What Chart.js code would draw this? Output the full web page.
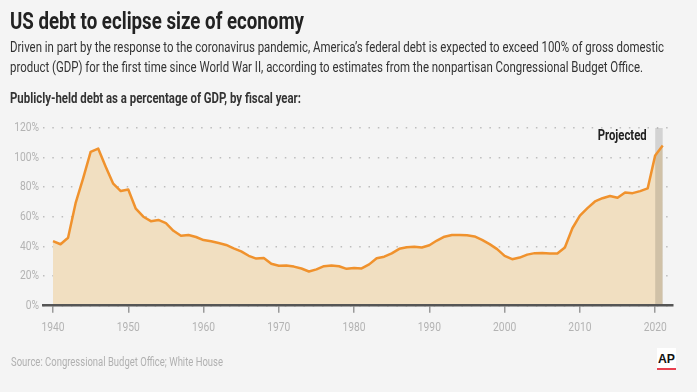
<!DOCTYPE html>
<html><head><meta charset="utf-8">
<script src="https://cdn.jsdelivr.net/npm/chart.js@4/dist/chart.umd.min.js"></script>
<style>
html,body{margin:0;padding:0;background:#f4f4f4;width:697px;height:392px;overflow:hidden;}
#wrap{position:relative;width:697px;height:392px;}
canvas{position:absolute;left:0;top:0;}
.t{position:absolute;white-space:nowrap;transform-origin:0 0;font-family:'Liberation Sans Narrow','Roboto',sans-serif;line-height:1;}
#title{left:10px;top:8.5px;font-size:24.5px;font-weight:bold;color:#222;}
.sub{left:10px;font-size:14.5px;color:#333;}
#lab{left:10px;top:91.5px;font-size:14.5px;font-weight:bold;color:#333;}
#src{left:11px;top:356px;font-size:12.5px;color:#b0b0b0;}
#ap{position:absolute;left:657px;top:348px;width:19px;height:22px;background:#fff;}
#apt{position:absolute;left:1px;top:4px;font-family:'Liberation Sans','Roboto',sans-serif;font-size:13.5px;font-weight:bold;color:#111;line-height:1;transform-origin:0 0;white-space:nowrap;}
#apbar{position:absolute;left:0;top:20px;width:19px;height:2.3px;background:#e8404f;}
</style></head>
<body><div id="wrap">
<canvas id="c" width="697" height="392"></canvas>
<div class="t" id="title" data-w="294">US debt to eclipse size of economy</div>
<div class="t sub" style="top:40.5px" data-w="654">Driven in part by the response to the coronavirus pandemic, America’s federal debt is expected to exceed 100% of gross domestic</div>
<div class="t sub" style="top:60.5px" data-w="633">product (GDP) for the first time since World War II, according to estimates from the nonpartisan Congressional Budget Office.</div>
<div class="t" id="lab" data-w="291">Publicly-held debt as a percentage of GDP, by fiscal year:</div>
<div class="t" id="src" data-w="212">Source: Congressional Budget Office; White House</div>
<div id="ap"><span id="apt" data-w="17">AP</span><div id="apbar"></div></div>
</div>
<script>
// ---- data ----
const years = [1940,1941,1942,1943,1944,1945,1946,1947,1948,1949,
  1950,1951,1952,1953,1954,1955,1956,1957,1958,1959,
  1960,1961,1962,1963,1964,1965,1966,1967,1968,1969,
  1970,1971,1972,1973,1974,1975,1976,1977,1978,1979,
  1980,1981,1982,1983,1984,1985,1986,1987,1988,1989,
  1990,1991,1992,1993,1994,1995,1996,1997,1998,1999,
  2000,2001,2002,2003,2004,2005,2006,2007,2008,2009,
  2010,2011,2012,2013,2014,2015,2016,2017,2018,2019,
  2020,2021];
const debtPct = [43.6,41.5,45.9,69.2,86.0,103.9,106.1,93.9,82.4,77.4,
  78.5,65.5,60.1,57.1,57.9,55.7,50.6,47.2,47.7,46.4,
  44.3,43.5,42.3,41.0,38.7,36.7,33.7,31.8,32.2,28.3,
  27.0,27.1,26.4,25.1,23.1,24.5,26.7,27.1,26.6,24.9,
  25.5,25.2,27.9,32.1,33.1,35.3,38.4,39.5,39.8,39.3,
  40.8,44.0,46.6,47.8,47.7,47.5,46.8,44.5,41.6,38.2,
  33.6,31.4,32.5,34.5,35.5,35.6,35.3,35.2,39.3,52.3,
  60.9,65.9,70.4,72.6,74.1,72.9,76.4,76.0,77.4,79.2,
  101.5,108.2];
const yTickValues = [0,20,40,60,80,100,120];
const xTickValues = [1940,1950,1960,1970,1980,1990,2000,2010,2020];
const projStart = 2020, projEnd = 2021;
const projLabel = 'Projected';

// fit HTML texts to reference widths
document.querySelectorAll('[data-w]').forEach(el=>{
  const w = el.getBoundingClientRect().width;
  el.style.transform = 'scaleX(' + (+el.dataset.w / w) + ')';
});

const FONT = "'Liberation Sans Narrow', Roboto, sans-serif";
const TICK_FONT = '13px ' + FONT;
const TICK_COLOR = '#b3b3b3';
const SQUEEZE = 0.79;

const projPlugin = {
  id: 'proj',
  beforeDatasetDraw(chart) {
    const {ctx, scales:{x, y}} = chart;
    const x0 = x.getPixelForValue(projStart), x1 = x.getPixelForValue(projEnd);
    const yt = y.getPixelForValue(120), yb = y.getPixelForValue(0);
    ctx.save();
    ctx.fillStyle = 'rgba(0,0,0,0.135)';
    ctx.fillRect(x0, yt, x1 - x0, yb - yt);
    ctx.font = 'bold 15.5px ' + FONT;
    ctx.fillStyle = '#222';
    ctx.textAlign = 'right';
    ctx.textBaseline = 'alphabetic';
    const w = ctx.measureText(projLabel).width;
    ctx.translate(x0 - 8.5, yt + 11.8);
    ctx.scale(49 / w, 1);
    ctx.fillText(projLabel, 0, 0);
    ctx.restore();
  },
  afterDraw(chart) {
    // condensed tick labels, positioned by the scales
    const {ctx, scales:{x, y}} = chart;
    ctx.save();
    ctx.font = TICK_FONT;
    ctx.fillStyle = TICK_COLOR;
    ctx.textBaseline = 'middle';
    x.ticks.forEach((t, i) => {
      const px = x.getPixelForTick(i);
      ctx.save();
      ctx.translate(px, 327.5);
      ctx.scale(SQUEEZE, 1);
      ctx.textAlign = 'center';
      ctx.fillText(String(t.value), 0, 0);
      ctx.restore();
    });
    y.ticks.forEach((t, i) => {
      const py = y.getPixelForTick(i);
      ctx.save();
      ctx.translate(x.left - 4, py);
      ctx.scale(SQUEEZE, 1);
      ctx.textAlign = 'right';
      ctx.fillText(t.value + '%', 0, 0);
      ctx.restore();
    });
    ctx.restore();
  }
};

new Chart(document.getElementById('c'), {
  type: 'line',
  data: {
    datasets: [{
      data: years.map((yr, i) => ({x: yr, y: debtPct[i]})),
      borderColor: '#f0922d',
      borderWidth: 2.5,
      backgroundColor: '#f1dfc1',
      fill: 'origin',
      pointRadius: 0,
      tension: 0,
      borderJoinStyle: 'round'
    }]
  },
  options: {
    responsive: false,
    animation: false,
    events: [],
    layout: {padding: {top: 128, left: 0, right: 24.5, bottom: 0}},
    plugins: {legend: {display: false}, tooltip: {enabled: false}},
    scales: {
      x: {
        type: 'linear',
        min: 1938.67,
        max: 2022.3,
        afterBuildTicks: s => { s.ticks = xTickValues.map(v => ({value: v})); },
        afterFit: s => { s.height = 392 - 305.7; },
        ticks: {
          callback: v => String(v),
          color: 'rgba(0,0,0,0)',
          font: {family: FONT, size: 13},
          padding: 7,
          maxRotation: 0,
          autoSkip: false
        },
        grid: {drawOnChartArea: false, tickLength: 7, color: '#9a9a9a', lineWidth: 1.5},
        border: {display: true, color: '#555', width: 2.5, z: 1}
      },
      y: {
        min: 0,
        max: 120,
        afterBuildTicks: s => { s.ticks = yTickValues.map(v => ({value: v})); },
        afterFit: s => { s.width = 43; },
        ticks: {
          callback: v => v + '%',
          color: 'rgba(0,0,0,0)',
          font: {family: FONT, size: 13},
          padding: 4
        },
        grid: {drawTicks: false, color: '#bdbdbd', lineWidth: 1.5},
        border: {display: false, dash: [1.5, 7.8]}
      }
    }
  },
  plugins: [projPlugin]
});
</script>
</body></html>
